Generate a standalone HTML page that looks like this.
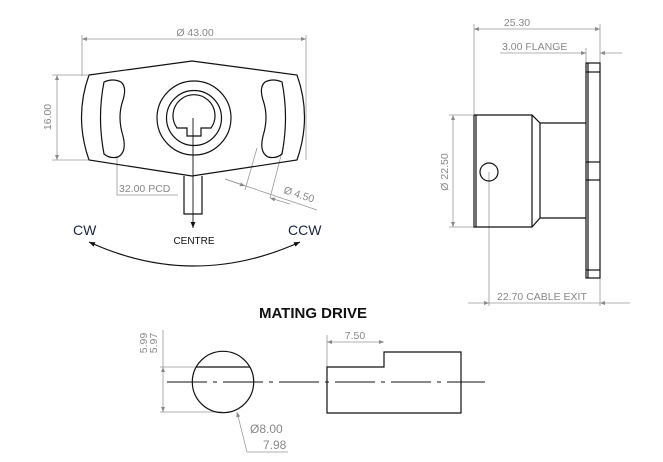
<!DOCTYPE html>
<html><head><style>html,body{margin:0;padding:0;background:#fff}svg{display:block}</style></head><body>
<svg width="663" height="462" viewBox="0 0 663 462" xmlns="http://www.w3.org/2000/svg" font-family="Liberation Sans, sans-serif">
<defs>
<marker id="a" viewBox="0 0 10 10" refX="10" refY="5" markerWidth="9" markerHeight="5" orient="auto-start-reverse" markerUnits="userSpaceOnUse"><path d="M0,1 L10,5 L0,9z" fill="#888"/></marker>
<marker id="b" viewBox="0 0 10 10" refX="10" refY="5" markerWidth="9" markerHeight="6" orient="auto-start-reverse" markerUnits="userSpaceOnUse"><path d="M0,1 L10,5 L0,9z" fill="#111"/></marker>
</defs>
<g stroke="#999" stroke-width="0.8" fill="none">
<line x1="82" y1="35" x2="82" y2="76"/><line x1="306" y1="35" x2="306" y2="160"/>
<line x1="82" y1="39" x2="306" y2="39" marker-start="url(#a)" marker-end="url(#a)"/>
<line x1="52" y1="75" x2="88" y2="75"/><line x1="52" y1="160" x2="88" y2="160"/>
<line x1="57" y1="75" x2="57" y2="160" marker-start="url(#a)" marker-end="url(#a)"/>
<polyline points="117,157 117,195 178,195"/>
<line x1="257" y1="148" x2="245" y2="190"/><line x1="283" y1="148" x2="270" y2="198"/>
<line x1="225" y1="179" x2="317" y2="210"/>
<line x1="225" y1="179" x2="245" y2="186" marker-end="url(#a)"/>
<line x1="290" y1="204" x2="270" y2="198" marker-end="url(#a)"/>
<line x1="474" y1="24" x2="474" y2="115"/><line x1="600" y1="24" x2="600" y2="306"/>
<line x1="474" y1="29" x2="600" y2="29" marker-start="url(#a)" marker-end="url(#a)"/>
<line x1="586" y1="48" x2="586" y2="63"/>
<line x1="500" y1="53" x2="586" y2="53" marker-end="url(#a)"/>
<line x1="622" y1="53" x2="600" y2="53" marker-end="url(#a)"/>
<line x1="449" y1="115" x2="474" y2="115"/><line x1="449" y1="227" x2="474" y2="227"/>
<line x1="453" y1="115" x2="453" y2="227" marker-start="url(#a)" marker-end="url(#a)"/>
<line x1="489" y1="172" x2="489" y2="306"/>
<line x1="468" y1="303" x2="489" y2="303" marker-end="url(#a)"/>
<line x1="489" y1="303" x2="600" y2="303"/>
<line x1="630" y1="303" x2="600" y2="303" marker-end="url(#a)"/>
<line x1="160" y1="367" x2="196" y2="367"/><line x1="160" y1="412" x2="223" y2="412"/>
<line x1="163" y1="330" x2="163" y2="367"/>
<line x1="163" y1="367" x2="163" y2="412" marker-start="url(#a)" marker-end="url(#a)"/>
<polyline points="247,452 288,452"/>
<line x1="247" y1="452" x2="237" y2="412" marker-end="url(#a)"/>
<line x1="327" y1="335" x2="327" y2="367"/>
<line x1="327" y1="342" x2="384" y2="342" marker-start="url(#a)" marker-end="url(#a)"/>
</g>
<g fill="#888" font-size="10.5">
<text x="195" y="36" text-anchor="middle">Ø 43.00</text>
<text transform="translate(51,117) rotate(-90)" text-anchor="middle">16.00</text>
<text x="119" y="192">32.00 PCD</text>
<text transform="translate(283,193) rotate(18)">Ø 4.50</text>
<text x="517" y="26" text-anchor="middle">25.30</text>
<text x="502" y="50">3.00 FLANGE</text>
<text transform="translate(448,172) rotate(-90)" text-anchor="middle">Ø 22.50</text>
<text x="497" y="300">22.70 CABLE EXIT</text>
<text transform="translate(147,343) rotate(-90)" text-anchor="middle">5.99</text>
<text transform="translate(157,343) rotate(-90)" text-anchor="middle">5.97</text>
<text x="355" y="339" text-anchor="middle">7.50</text>
<text x="250" y="433" font-size="12">Ø8.00</text>
<text x="263" y="449" font-size="12">7.98</text>
</g>
<g stroke="#111" stroke-width="1.2" fill="none">
<path d="M89,75 L192,61 L297,75 Q312,117 297,160 L192,176 L89,160 Q74,117 89,75Z"/>
<path d="M104,82 Q113,78 121,82 Q127,87 123,100 Q117,117 123,136 Q127,152 118,157 Q110,159 104,154 Q97,117 104,82Z"/>
<path d="M282,82 Q273,78 265,82 Q259,87 263,100 Q269,117 263,136 Q259,152 268,157 Q276,159 282,154 Q289,117 282,82Z"/>
<circle cx="194" cy="118" r="37"/>
<circle cx="194" cy="118" r="27.5"/>
<path d="M183,128 L177,128 A21,21 0 1 1 211,128 L201,128 L201,136 L187,136 L187,128Z"/>
<path d="M184,176 L184,214 L202,214 L202,176"/>
<line x1="193" y1="118" x2="193" y2="228" marker-end="url(#b)" stroke-width="0.9"/>
<path d="M89,242 Q194,290 300,242" marker-start="url(#b)" marker-end="url(#b)"/>
<rect x="586" y="63" width="14" height="215"/>
<line x1="588" y1="63" x2="588" y2="278"/>
<line x1="586" y1="72" x2="600" y2="72"/><line x1="586" y1="270" x2="600" y2="270"/>
<line x1="586" y1="162" x2="600" y2="162"/><line x1="586" y1="180" x2="600" y2="180"/>
<path d="M474,115 L532,115 L540,123 L586,123"/>
<path d="M586,218 L540,218 L532,227 L474,227 L474,115"/>
<line x1="476" y1="115" x2="476" y2="227"/>
<line x1="532" y1="115" x2="532" y2="227"/><line x1="540" y1="123" x2="540" y2="218"/>
<circle cx="489" cy="172" r="9"/>
<circle cx="223" cy="382" r="30.7"/>
<line x1="196" y1="367" x2="250" y2="367"/>
<path d="M327,367 L384,367 L384,352 L461,352 L461,413 L327,413Z"/>
<line x1="167" y1="382" x2="485" y2="382" stroke-width="0.9" stroke-dasharray="40,6,4,6"/>
</g>
<g fill="#1a2540">
<text x="73" y="235" font-size="14">CW</text>
<text x="288" y="235" font-size="14">CCW</text>
<text x="194" y="244" font-size="10" text-anchor="middle" fill="#111">CENTRE</text>
</g>
<text x="313" y="318" font-size="15" font-weight="bold" text-anchor="middle" fill="#111">MATING DRIVE</text>
</svg>
</body></html>
